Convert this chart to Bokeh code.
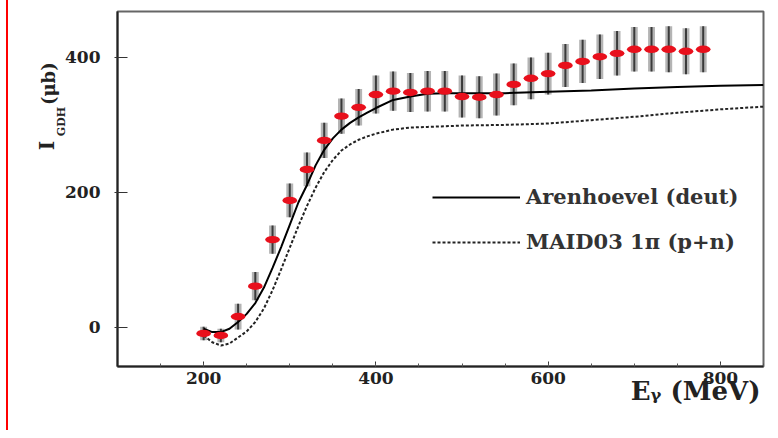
import numpy as np
from bokeh.plotting import figure
from bokeh.models import (Label, Legend, LegendItem, SingleIntervalTicker,
                          FixedTicker, ColumnDataSource, Range1d)
from bokeh.embed import file_html
from bokeh.resources import INLINE

# ---- data ----
energy = [200, 220, 240, 260, 280, 300, 320, 340, 360, 380, 400, 420, 440, 460, 480,
          500, 520, 540, 560, 580, 600, 620, 640, 660, 680, 700, 720, 740, 760, 780]
igdh = [-9, -12, 16, 61, 130, 188, 234, 277, 313, 326, 345, 350, 348, 350, 350,
        342, 341, 345, 360, 369, 376, 388, 394, 401, 406, 412, 412, 412, 409, 412]
igdh_err = [10, 10, 19, 21, 21, 25, 25, 26, 26, 27, 28, 29, 29, 30, 30,
            31, 31, 31, 31, 31, 31, 32, 32, 33, 33, 33, 33, 34, 34, 34]

energy_th = [200, 210, 220, 230, 240, 250, 260, 270, 280, 290, 300, 310, 320, 330,
             340, 350, 360, 370, 380, 390, 400, 420, 440, 460, 480, 500, 550, 600,
             650, 700, 750, 800, 850]
arenhoevel = [-2, -7, -7, -2, 8, 20, 36, 59, 88, 119, 152, 185, 211, 240,
              263, 280, 293, 303, 311, 318, 325, 337, 342, 346, 347, 347, 347, 349,
              351, 354, 356, 358, 359]
maid03 = [-12, -22, -27, -24, -15, -6, 8, 28, 55, 86, 118, 150, 180, 207,
          230, 248, 262, 271, 278, 283, 287, 293, 296, 297, 298, 299, 300, 302,
          307, 312, 318, 323, 327]

x_ticks = [200, 400, 600, 800]
y_ticks = [0, 200, 400]

FONT = "DejaVu Serif"

p = figure(width=770, height=430, x_range=Range1d(100, 850), y_range=Range1d(-58, 468),
           output_backend="svg", toolbar_location=None,
           min_border_left=117, min_border_right=7, min_border_top=11, min_border_bottom=64)
p.border_fill_color = None
p.styles = {"background": "linear-gradient(to right, #ffffff 0px, #ffffff 6px, "
                          "#ff0000 6px, #ff0000 8px, #ffffff 8px, #ffffff 100%)"}
p.xgrid.visible = False
p.ygrid.visible = False
p.outline_line_color = "#666666"
p.outline_line_width = 2
p.background_fill_color = "white"

# x axis
p.xaxis.ticker = SingleIntervalTicker(interval=200, num_minor_ticks=4)
p.xaxis.major_tick_in = 5
p.xaxis.major_tick_out = 0
p.xaxis.minor_tick_in = 3
p.xaxis.minor_tick_out = 0
p.xaxis.major_label_standoff = 5
p.xaxis.minor_tick_line_color = "#555555"
# y axis
p.yaxis.ticker = FixedTicker(ticks=y_ticks, minor_ticks=[])
p.yaxis.major_tick_in = 10
p.yaxis.major_tick_out = 3
p.yaxis.minor_tick_line_color = None
p.yaxis.major_label_standoff = 14
for ax in (p.xaxis, p.yaxis):
    ax.axis_line_color = "#222222"
    ax.axis_line_width = 2
    ax.major_tick_line_color = "#333333"
    ax.major_label_text_font = FONT
    ax.major_label_text_font_style = "bold"
    ax.major_label_text_font_size = "17px"
    ax.major_label_text_color = "#222222"

# data with error bars
e = np.array(energy, dtype=float)
v = np.array(igdh, dtype=float)
er = np.array(igdh_err, dtype=float)
src = ColumnDataSource(dict(x=e, y=v, lo=v - er, hi=v + er))
p.vbar(x="x", top="hi", bottom="lo", width=8, source=src,
       fill_color="#b4b4b4", line_color=None)
p.segment(x0="x", y0="lo", x1="x", y1="hi", source=src,
          line_color="#3a3a3a", line_width=2)

# theory curves
r_aren = p.line(energy_th, arenhoevel, line_color="black", line_width=2)
r_maid = p.line(energy_th, maid03, line_color="#222222", line_width=2, line_dash="3 2")

# red points
p.ellipse(x="x", y="y", width=17, height=11, source=src,
          fill_color="#e8101c", line_color=None)

legend = Legend(items=[LegendItem(label="Arenhoevel (deut)", renderers=[r_aren]),
                       LegendItem(label="MAID03 1π (p+n)", renderers=[r_maid])],
                location=(315, 112), glyph_width=88, glyph_height=20, label_height=20,
                spacing=20, padding=0, margin=0, label_standoff=6,
                border_line_color=None, background_fill_alpha=0,
                label_text_font=FONT, label_text_font_style="bold",
                label_text_font_size="21px", label_text_color="#333333")
p.add_layout(legend)

# axis titles, placed in the side panels so they are not clipped by the frame
lab_kw = dict(text_font=FONT, text_font_style="bold", text_color="#222222")
p.add_layout(Label(x=18.7, y=269.5, text="I", angle=np.pi / 2, text_align="center",
                   text_baseline="middle", text_font_size="20px", **lab_kw), "left")
p.add_layout(Label(x=35, y=305, text="GDH", angle=np.pi / 2, text_align="center",
                   text_baseline="middle", text_font_size="11px", **lab_kw), "left")
p.add_layout(Label(x=19.9, y=361, text="(μb)", angle=np.pi / 2, text_align="center",
                   text_baseline="middle", text_font_size="18px", **lab_kw), "left")

p.add_layout(Label(x=846.5, y=-95, text="Eᵧ (MeV)", text_align="right",
                   text_baseline="middle", text_font_size="26px", **lab_kw), "below")

open("out.html", "w").write(file_html(p, INLINE))
